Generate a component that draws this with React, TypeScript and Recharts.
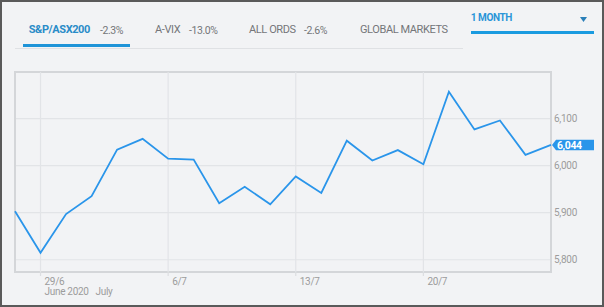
import React from "react";
import {
  LineChart,
  Line,
  XAxis,
  YAxis,
  CartesianGrid,
  ReferenceLine,
  ReferenceArea,
  LabelList,
} from "recharts";

const dates = [
  "26/6", "29/6", "30/6", "1/7", "2/7", "3/7", "6/7", "7/7", "8/7", "9/7", "10/7",
  "13/7", "14/7", "15/7", "16/7", "17/7", "20/7", "21/7", "22/7", "23/7", "24/7", "27/7",
];
const values = [
  5903, 5815, 5897, 5935, 6034, 6057, 6015, 6013, 5920, 5955, 5918,
  5977, 5942, 6053, 6011, 6033, 6003, 6157, 6077, 6096, 6023, 6044,
];
const dateTicks = ["29/6", "6/7", "13/7", "20/7"];
const monthTickDates = ["29/6", "1/7"];
const monthTickLabels = ["June 2020", "July"];
const yTicks = [5800, 5900, 6000, 6100];
const yDomain = [5774, 6199];

const tabNames = ["S&P/ASX200", "A-VIX", "ALL ORDS", "GLOBAL MARKETS"];
const tabChanges = ["-2.3%", "-13.0%", "-2.6%", ""];
const periodLabel = "1 MONTH";

const data = dates.map((d, i) => ({ date: d, value: values[i] }));

const FONT = "Roboto, 'Noto Sans', sans-serif";
const BLUE = "#2a95ea";

const fmt = (v: number) => v.toLocaleString("en-US");

const XTick = (props: any) => {
  const { x, y, payload } = props;
  const v = payload.value;
  const isDate = dateTicks.includes(v);
  const mi = monthTickDates.indexOf(v);
  return (
    <g>
      {isDate && <line x1={x} x2={x} y1={y} y2={y + 4} stroke="#dcdee1" strokeWidth={1.2} />}
      {isDate && (
        <text x={x + 4} y={y + 12.5} fill="#9c9c9c" fontSize={10} fontFamily={FONT} letterSpacing={-0.3}>
          {v}
        </text>
      )}
      {mi >= 0 && (
        <text x={x + 4} y={y + 23} fill="#9c9c9c" fontSize={10} fontFamily={FONT} letterSpacing={-0.3}>
          {monthTickLabels[mi]}
        </text>
      )}
    </g>
  );
};

const Tag = (props: any) => {
  const { x, y, index, value } = props;
  if (index !== values.length - 1) return null;
  const h = 5.2;
  return (
    <g>
      <polygon
        points={`${x + 1},${y} ${x + 5},${y - h} ${x + 43},${y - h} ${x + 43},${y + h} ${x + 5},${y + h}`}
        fill={BLUE}
      />
      <text x={x + 6} y={y + 3.8} fill="#ffffff" fontSize={10.5} fontWeight={700} fontFamily={FONT} letterSpacing={-0.4}>
        {fmt(Number(value))}
      </text>
    </g>
  );
};

const tabLeft = [28.7, 155, 249, 360];
const changeLeft = [100, 189, 304, 0];

export default function App() {
  return (
    <div
      style={{
        position: "absolute",
        left: 0,
        top: 0,
        width: 604,
        height: 307,
        background: "#f2f3f5",
        fontFamily: FONT,
        overflow: "hidden",
      }}
    >
      {tabNames.map((t, i) => (
        <div
          key={t}
          style={{
            position: "absolute",
            left: tabLeft[i],
            top: 24,
            lineHeight: "12px",
            fontSize: 11,
            letterSpacing: -0.4,
            whiteSpace: "nowrap",
            color: i === 0 ? "#2a8cc8" : "#747679",
            fontWeight: i === 0 ? 700 : 400,
          }}
        >
          {t}
        </div>
      ))}
      {tabChanges.map((c, i) =>
        c ? (
          <div
            key={"c" + i}
            style={{
              position: "absolute",
              left: changeLeft[i],
              top: 24.5,
              lineHeight: "12px",
              fontSize: 10.5,
              letterSpacing: -0.4,
              whiteSpace: "nowrap",
              color: "#747679",
            }}
          >
            {c}
          </div>
        ) : null
      )}
      <div style={{ position: "absolute", left: 15, top: 47.5, width: 448, height: 1.5, background: "#dfe1e4" }} />
      <div style={{ position: "absolute", left: 23.3, top: 44.2, width: 106.7, height: 3, background: "#1f94d8" }} />
      <div
        style={{
          position: "absolute",
          left: 470.7,
          top: 12.3,
          lineHeight: "12px",
          fontSize: 10,
          fontWeight: 700,
          letterSpacing: -0.4,
          color: "#2a95d8",
          whiteSpace: "nowrap",
        }}
      >
        {periodLabel}
      </div>
      <svg style={{ position: "absolute", left: 580, top: 16.5 }} width={7} height={5}>
        <polygon points="0,0 7,0 3.5,5" fill="#2a7fb8" />
      </svg>
      <div style={{ position: "absolute", left: 470.7, top: 31, width: 123.6, height: 3, background: "#1a9be0" }} />

      <div style={{ position: "absolute", left: 0, top: 0 }}>
        <LineChart width={604} height={307} data={data} margin={{ top: 72, left: 15, right: 3, bottom: 5 }}>
          <CartesianGrid vertical={false} stroke="#e2e4e7" strokeWidth={1.2} />
          {dateTicks.map((d) => (
            <ReferenceLine key={d} x={d} stroke="#e2e4e7" strokeWidth={1.2} />
          ))}
          <ReferenceArea
            x1={dates[0]}
            x2={dates[dates.length - 1]}
            y1={yDomain[0]}
            y2={yDomain[1]}
            fill="none"
            fillOpacity={0}
            stroke="#d4d6d9"
            strokeWidth={2}
          />
          <XAxis
            dataKey="date"
            ticks={[...new Set([...dateTicks, ...monthTickDates])]}
            interval={0}
            height={30}
            tickLine={false}
            axisLine={false}
            tickSize={0}
            tickMargin={0}
            tick={<XTick />}
          />
          <YAxis
            orientation="right"
            domain={yDomain}
            ticks={yTicks}
            width={50}
            tickLine={false}
            axisLine={false}
            tickSize={0}
            tickMargin={3}
            tickFormatter={fmt}
            tick={{ fill: "#9c9c9c", fontSize: 10, fontFamily: FONT, textAnchor: "start", letterSpacing: -0.3 } as any}
          />
          <Line
            type="linear"
            dataKey="value"
            stroke={BLUE}
            strokeWidth={1.8}
            dot={false}
            activeDot={false}
            isAnimationActive={false}
          >
            <LabelList dataKey="value" content={<Tag />} />
          </Line>
        </LineChart>
      </div>

      <div
        style={{
          position: "absolute",
          left: 0,
          top: 0,
          width: 604,
          height: 307,
          boxSizing: "border-box",
          border: "2px solid #5a5a5a",
          pointerEvents: "none",
        }}
      />
    </div>
  );
}
